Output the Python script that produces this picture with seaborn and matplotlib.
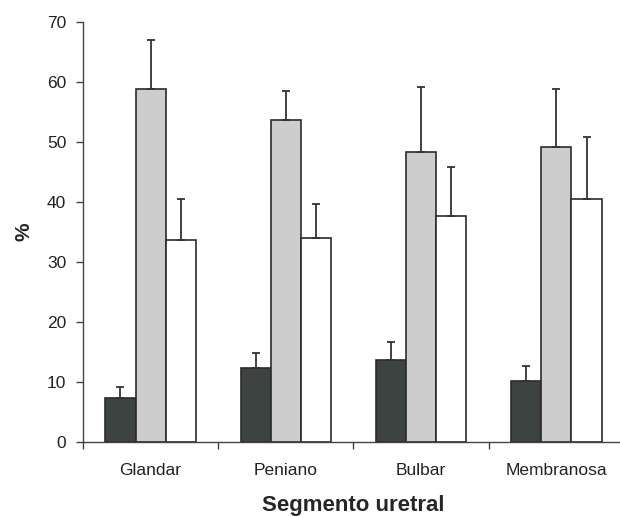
import numpy as np
import pandas as pd
import seaborn as sns
import matplotlib.pyplot as plt

# Werte
segmentos = ["Glandar", "Peniano", "Bulbar", "Membranosa"]
grupos = ["A", "B", "C"]
valores_a = [7.3, 12.3, 13.7, 10.2]
valores_b = [58.9, 53.6, 48.4, 49.1]
valores_c = [33.6, 34.0, 37.7, 40.5]
erro_a = [1.8, 2.6, 2.9, 2.4]
erro_b = [8.1, 4.9, 10.8, 9.7]
erro_c = [6.9, 5.6, 8.1, 10.3]

cores = ["#3b4442", "#cdcdcd", "#ffffff"]

df = pd.DataFrame({
    "Segmento": segmentos * 3,
    "Grupo": np.repeat(grupos, len(segmentos)),
    "Valor": valores_a + valores_b + valores_c,
    "Erro": erro_a + erro_b + erro_c,
})

sns.set_style("white")
plt.rcParams["font.family"] = ["Liberation Sans", "DejaVu Sans"]

fig = plt.figure(figsize=(6.2, 5.17), dpi=100)
ax = fig.add_axes([83 / 620, 1 - 442 / 517, (624 - 83) / 620, (442 - 22) / 517])

sns.barplot(data=df, x="Segmento", y="Valor", hue="Grupo", palette=cores,
            width=0.67, errorbar=None, edgecolor="#2b2b2b", linewidth=1.2,
            legend=False, ax=ax)

# nur obere Fehlerbalken
for patch, (_, row) in zip(ax.patches, df.iterrows()):
    xc = patch.get_x() + patch.get_width() / 2
    h = patch.get_height()
    ax.errorbar(xc, h, yerr=[[0], [row["Erro"]]], fmt="none",
                ecolor="#333333", elinewidth=1.3, capsize=3, capthick=1.3,
                zorder=1)

ax.set_ylim(0, 70)
ax.set_xlim(-0.5, 3.5)
ax.set_yticks(range(0, 71, 10))
ax.tick_params(axis="y", labelsize=12.5, length=5, width=1, color="#444444",
               labelcolor="#222222", direction="out", left=True, pad=7)

ax.set_xticks(np.arange(-0.5, 4, 1))
ax.set_xticklabels([])
ax.set_xticks(range(len(segmentos)), minor=True)
ax.set_xticklabels(segmentos, minor=True)
ax.tick_params(axis="x", which="major", length=5, width=1, color="#444444",
               direction="out", bottom=True)
ax.tick_params(axis="x", which="minor", length=0, labelsize=12.5, pad=15,
               labelcolor="#222222")

for s in ["top", "right"]:
    ax.spines[s].set_visible(False)
for s in ["left", "bottom"]:
    ax.spines[s].set_color("#444444")
    ax.spines[s].set_linewidth(1)

ax.set_xlabel("Segmento uretral", fontsize=16, fontweight="bold", labelpad=12)
ax.set_ylabel("%", fontsize=15, fontweight="bold", labelpad=10)

fig.savefig("out.png", dpi=100)
